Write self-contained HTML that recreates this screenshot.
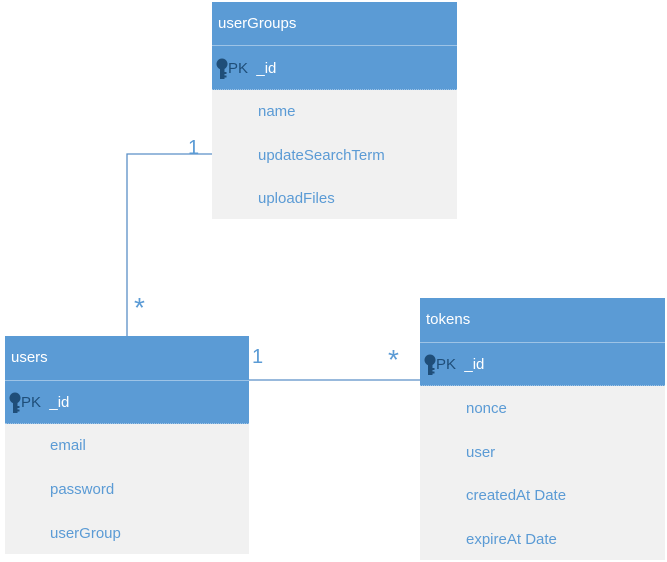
<!DOCTYPE html>
<html><head><style>
body{margin:0;width:667px;height:562px;background:#fff;position:relative;font-family:"Liberation Sans",sans-serif;overflow:hidden}
.h{position:absolute;background:#5b9bd5;color:#fff;font-size:15px;box-sizing:border-box;padding-left:6px}
.pk{position:absolute;background:#5b9bd5;color:#1f4e79;font-size:15px;border-top:1px solid #9dc3e6;border-bottom:1px dotted #9dc3e6;box-sizing:border-box}
.b{position:absolute;background:#f1f1f1}
.t{position:absolute;color:#5b9bd5;font-size:15px}
.k{display:inline-block;vertical-align:middle}
.lab{position:absolute;color:#5b9bd5;font-size:20px}
.st{position:absolute;color:#5b9bd5;font-size:28px;line-height:28px}
</style></head><body>
<svg width="667" height="562" style="position:absolute;left:0;top:0">
<polyline points="212,154 127,154 127,336" fill="none" stroke="#5b8fc7" stroke-width="1.3"/>
<line x1="249" y1="380" x2="420" y2="380" stroke="#5b8fc7" stroke-width="1.3"/>
</svg>

<!-- userGroups -->
<div class="h" style="left:212px;top:2px;width:245px;height:43px;line-height:43px">userGroups</div>
<div class="pk" style="left:212px;top:45px;width:245px;height:45px;line-height:45px;padding-left:4px"><svg class="k" width="12" height="22" viewBox="0 0 12 22"><circle cx="6" cy="6" r="5.5" fill="#1f4e79"/><rect x="4" y="8" width="4.5" height="13" fill="#1f4e79"/><rect x="8" y="14" width="2.5" height="2" fill="#1f4e79"/><rect x="8" y="17.5" width="2.5" height="2" fill="#1f4e79"/></svg><span style="color:#1f4e79">PK &nbsp;<span style="color:#fff">_id</span></span></div>
<div class="b" style="left:212px;top:90px;width:245px;height:129px"></div>
<div class="t" style="left:258px;top:103px">name</div>
<div class="t" style="left:258px;top:147px">updateSearchTerm</div>
<div class="t" style="left:258px;top:190px">uploadFiles</div>

<!-- users -->
<div class="h" style="left:5px;top:336px;width:244px;height:44px;line-height:44px">users</div>
<div class="pk" style="left:5px;top:380px;width:244px;height:44px;line-height:44px;padding-left:4px"><svg class="k" width="12" height="22" viewBox="0 0 12 22"><circle cx="6" cy="6" r="5.5" fill="#1f4e79"/><rect x="4" y="8" width="4.5" height="13" fill="#1f4e79"/><rect x="8" y="14" width="2.5" height="2" fill="#1f4e79"/><rect x="8" y="17.5" width="2.5" height="2" fill="#1f4e79"/></svg><span style="color:#1f4e79">PK &nbsp;<span style="color:#fff">_id</span></span></div>
<div class="b" style="left:5px;top:424px;width:244px;height:130px"></div>
<div class="t" style="left:50px;top:437px">email</div>
<div class="t" style="left:50px;top:481px">password</div>
<div class="t" style="left:50px;top:525px">userGroup</div>

<!-- tokens -->
<div class="h" style="left:420px;top:298px;width:245px;height:44px;line-height:44px">tokens</div>
<div class="pk" style="left:420px;top:342px;width:245px;height:44px;line-height:44px;padding-left:4px"><svg class="k" width="12" height="22" viewBox="0 0 12 22"><circle cx="6" cy="6" r="5.5" fill="#1f4e79"/><rect x="4" y="8" width="4.5" height="13" fill="#1f4e79"/><rect x="8" y="14" width="2.5" height="2" fill="#1f4e79"/><rect x="8" y="17.5" width="2.5" height="2" fill="#1f4e79"/></svg><span style="color:#1f4e79">PK &nbsp;<span style="color:#fff">_id</span></span></div>
<div class="b" style="left:420px;top:386px;width:245px;height:174px"></div>
<div class="t" style="left:466px;top:400px">nonce</div>
<div class="t" style="left:466px;top:444px">user</div>
<div class="t" style="left:466px;top:487px">createdAt Date</div>
<div class="t" style="left:466px;top:531px">expireAt Date</div>

<div class="lab" style="left:188px;top:137px">1</div>
<div class="st" style="left:134px;top:294px">*</div>
<div class="lab" style="left:252px;top:346px">1</div>
<div class="st" style="left:388px;top:346px">*</div>
</body></html>
